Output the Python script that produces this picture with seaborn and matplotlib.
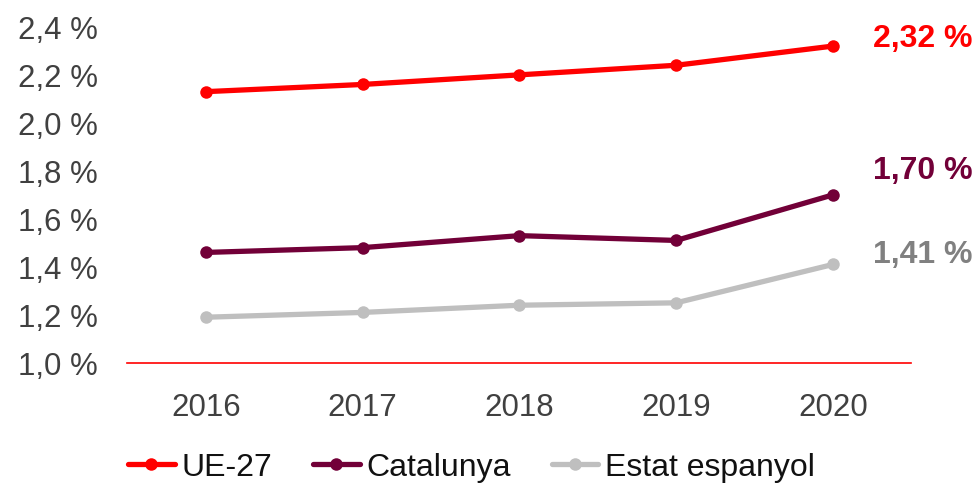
import matplotlib
matplotlib.use("Agg")
import matplotlib.pyplot as plt
import matplotlib.ticker as mticker
import pandas as pd
import seaborn as sns

years = [2016, 2017, 2018, 2019, 2020]
ue27 = [2.13, 2.16, 2.20, 2.24, 2.32]
catalunya = [1.46, 1.48, 1.53, 1.51, 1.70]
espanya = [1.19, 1.21, 1.24, 1.25, 1.41]
series_names = ["UE-27", "Catalunya", "Estat espanyol"]
line_colors = ["#FF0000", "#720038", "#BFBFBF"]
label_colors = ["#FF0000", "#720038", "#808080"]

df = pd.DataFrame({
    "year": years * 3,
    "value": ue27 + catalunya + espanya,
    "serie": [n for n in series_names for _ in years],
})

sns.set_theme(style="white")
plt.rcParams["font.family"] = ["Liberation Sans", "DejaVu Sans"]

fig = plt.figure(figsize=(9.79, 4.89), dpi=100)
ax = fig.add_axes([0.13, 0.256, 0.801, 0.687])

sns.lineplot(
    data=df, x="year", y="value", hue="serie", hue_order=series_names,
    palette=line_colors, marker="o", markersize=9, markeredgewidth=0,
    linewidth=3.8, ax=ax,
)

ax.set_xlim(2015.5, 2020.5)
ax.set_ylim(1.0, 2.4)
ax.set_xticks(years)
ax.set_yticks([1.0, 1.2, 1.4, 1.6, 1.8, 2.0, 2.2, 2.4])
ax.yaxis.set_major_formatter(
    mticker.FuncFormatter(lambda v, p: f"{v:.1f} %".replace(".", ","))
)
ax.tick_params(axis="both", labelsize=22.5, colors="#404040", length=0)
ax.tick_params(axis="x", pad=21)
ax.tick_params(axis="y", pad=21)
ax.set_xlabel("")
ax.set_ylabel("")
for s in ["top", "right", "left"]:
    ax.spines[s].set_visible(False)
ax.spines["bottom"].set_color("#FF0000")
ax.spines["bottom"].set_linewidth(1.2)

# etiquetes finals
last_vals = [ue27[-1], catalunya[-1], espanya[-1]]
dys = [8, 25, 10]
for v, c, dy in zip(last_vals, label_colors, dys):
    ax.annotate(
        f"{v:.2f} %".replace(".", ","), xy=(years[-1], v),
        xytext=(40, dy), textcoords="offset pixels",
        ha="left", va="center", fontsize=23, fontweight="bold", color=c,
        annotation_clip=False,
    )

handles, labels = ax.get_legend_handles_labels()
ax.legend(
    handles, labels, loc="center left", bbox_to_anchor=(0.118, 0.042),
    bbox_transform=fig.transFigure, ncol=3, frameon=False, fontsize=23,
    handlelength=1.45, handletextpad=0.2, columnspacing=1.3,
    labelcolor="#111111", borderaxespad=0,
)

fig.savefig("out.png", dpi=100)
